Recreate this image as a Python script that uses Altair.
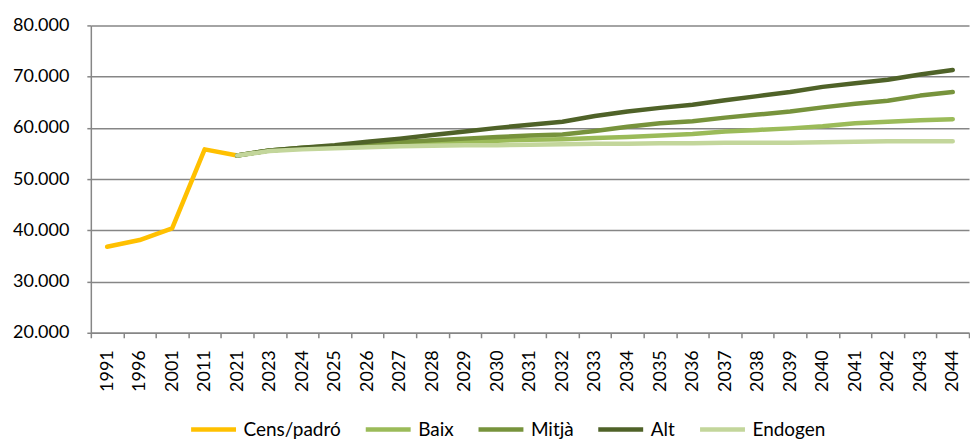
import altair as alt
import pandas as pd

categories = ["1991", "1996", "2001", "2011", "2021", "2023", "2024", "2025", "2026", "2027",
              "2028", "2029", "2030", "2031", "2032", "2033", "2034", "2035", "2036", "2037",
              "2038", "2039", "2040", "2041", "2042", "2043", "2044"]

cens_years = ["1991", "1996", "2001", "2011", "2021"]
cens_values = [36800, 38100, 40400, 55800, 54600]

proj_years = categories[4:]
baix_values = [54600, 55600, 56000, 56200, 56500, 56800, 57100, 57300, 57500, 57700, 57800, 58000,
               58200, 58500, 58800, 59300, 59600, 59900, 60300, 60900, 61200, 61500, 61700]
mitja_values = [54600, 55600, 56100, 56400, 56800, 57200, 57600, 57900, 58200, 58500, 58700, 59400,
                60200, 60900, 61300, 62000, 62600, 63200, 64000, 64700, 65300, 66300, 67000]
alt_values = [54600, 55600, 56100, 56600, 57300, 57900, 58600, 59300, 60000, 60600, 61200, 62300,
              63200, 63900, 64500, 65400, 66200, 67000, 68000, 68700, 69400, 70400, 71300]
endogen_values = [54600, 55500, 55800, 56000, 56200, 56400, 56500, 56600, 56600, 56700, 56800, 56900,
                  56900, 57000, 57000, 57100, 57100, 57100, 57200, 57300, 57400, 57400, 57400]

series_names = ["Cens/padró", "Baix", "Mitjà", "Alt", "Endogen"]
series_colors = ["#FFC000", "#9BBB59", "#77933C", "#4F6228", "#C3D69B"]

rows = []
for y, v in zip(cens_years, cens_values):
    rows.append({"any": y, "valor": v, "serie": "Cens/padró"})
for name, vals in [("Baix", baix_values), ("Mitjà", mitja_values), ("Alt", alt_values), ("Endogen", endogen_values)]:
    for y, v in zip(proj_years, vals):
        rows.append({"any": y, "valor": v, "serie": name})
df = pd.DataFrame(rows)

FONT = "Lato"

chart = alt.Chart(df).mark_line(strokeWidth=4.5, strokeCap="round", strokeJoin="round").encode(
    x=alt.X("any:N", sort=categories,
            scale=alt.Scale(type="band", domain=categories, paddingInner=0, paddingOuter=0),
            bandPosition=0.5,
            axis=alt.Axis(title=None, labelAngle=270, labelFontSize=18, labelFont=FONT,
                          labelColor="#000000", tickBand="extent", tickSize=5, tickColor="#868686",
                          tickWidth=1.5, domainColor="#868686", domainWidth=1.5, labelPadding=12,
                          grid=False)),
    y=alt.Y("valor:Q", scale=alt.Scale(domain=[20000, 80000], nice=False, zero=False),
            axis=alt.Axis(title=None, values=[20000, 30000, 40000, 50000, 60000, 70000, 80000],
                          labelExpr="replace(format(datum.value, ',.0f'), ',', '.')",
                          labelFontSize=18, labelFont=FONT, labelColor="#000000",
                          tickSize=4, tickColor="#868686", tickWidth=1.5,
                          domainColor="#868686", domainWidth=1.5, labelPadding=18,
                          gridColor="#868686", gridWidth=1.5)),
    color=alt.Color("serie:N", scale=alt.Scale(domain=series_names, range=series_colors),
                    sort=series_names,
                    legend=alt.Legend(title=None, orient="none", legendX=98, legendY=380,
                                      direction="horizontal",
                                      symbolType="stroke", symbolSize=2025, symbolStrokeWidth=4.5,
                                      labelFontSize=19, labelFont=FONT, labelColor="#000000",
                                      columnPadding=15, symbolOffset=0, labelOffset=5)),
    order=alt.Order("any:N")
).properties(
    width=880, height=308,
    padding={"left": 4, "top": 8, "right": 0, "bottom": 0}
).configure_view(stroke=None)

chart.save("out.html", embed_options={"renderer": "svg", "actions": False})
